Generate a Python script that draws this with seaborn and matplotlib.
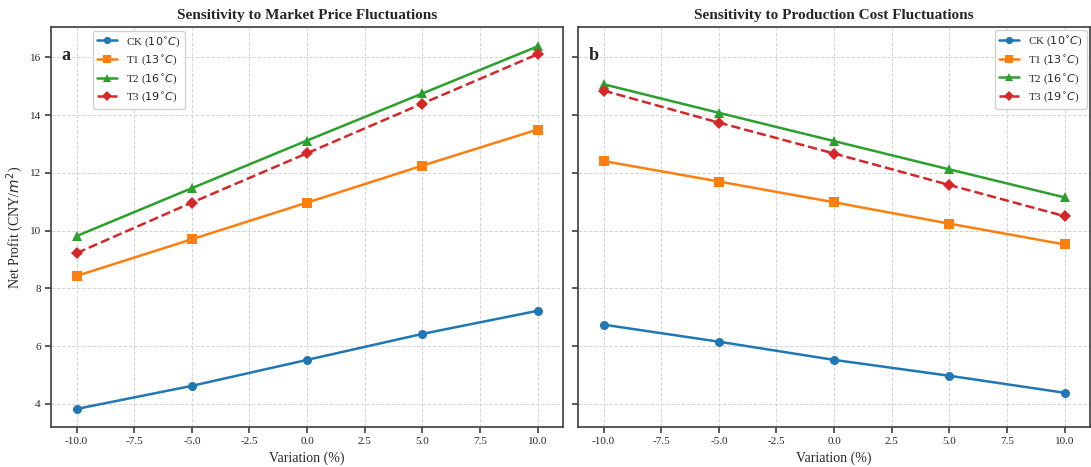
import pandas as pd
import matplotlib.pyplot as plt
import seaborn as sns

# variation levels (%)
variation = [-10, -5, 0, 5, 10]

# net profit when market price varies
price_ck = [3.82, 4.62, 5.52, 6.42, 7.22]
price_t1 = [8.43, 9.70, 10.97, 12.25, 13.50]
price_t2 = [9.81, 11.47, 13.12, 14.75, 16.38]
price_t3 = [9.22, 10.97, 12.68, 14.40, 16.11]

# net profit when production cost varies
cost_ck = [6.74, 6.15, 5.52, 4.97, 4.38]
cost_t1 = [12.41, 11.70, 10.98, 10.24, 9.52]
cost_t2 = [15.07, 14.08, 13.10, 12.12, 11.15]
cost_t3 = [14.85, 13.74, 12.67, 11.58, 10.50]

labels = ["CK ($10^{\\circ}C$)", "T1 ($13^{\\circ}C$)", "T2 ($16^{\\circ}C$)", "T3 ($19^{\\circ}C$)"]
colors = ["#1f77b4", "#ff7f0e", "#2ca02c", "#d62728"]
markers = ["o", "s", "^", "D"]
styles = ["-", "-", "-", "--"]

sns.set_theme(style="ticks")
plt.rcParams['font.family'] = ['Liberation Serif', 'DejaVu Serif']

fig, axes = plt.subplots(1, 2, figsize=(10.91, 4.67), dpi=100, sharey=True)
plt.subplots_adjust(left=0.047, right=0.999, top=0.942, bottom=0.086, wspace=0.03)

panels = [
    (axes[0], [price_ck, price_t1, price_t2, price_t3], "Sensitivity to Market Price Fluctuations", "a"),
    (axes[1], [cost_ck, cost_t1, cost_t2, cost_t3], "Sensitivity to Production Cost Fluctuations", "b"),
]

for ax, series, title, tag in panels:
    for vals, lab, c, m, ls in zip(series, labels, colors, markers, styles):
        df = pd.DataFrame({"Variation": variation, "Profit": vals})
        sns.lineplot(data=df, x="Variation", y="Profit", ax=ax, color=c, marker=m,
                     linestyle=ls, linewidth=1.8, markersize=6.5, markeredgewidth=0, label=lab)
    ax.set_title(title, fontsize=11, fontweight="bold", pad=6)
    ax.set_xlabel("Variation (%)", fontsize=10)
    ax.grid(True, linestyle="--", color="#d5d5d5", linewidth=0.7)
    ax.set_xlim(-11.1, 11.1)
    ax.set_xticks([-10, -7.5, -5, -2.5, 0, 2.5, 5, 7.5, 10])
    ax.set_xticklabels(["-10.0", "-7.5", "-5.0", "-2.5", "0.0", "2.5", "5.0", "7.5", "10.0"])
    ax.tick_params(labelsize=8, color="#444444", length=4)
    for sp in ax.spines.values():
        sp.set_color("#444444")
    ax.text(0.02, 0.93, tag, transform=ax.transAxes, fontsize=13, fontweight="bold", va="center")

axes[0].set_ylim(3.2, 17.05)
axes[0].set_yticks([4, 6, 8, 10, 12, 14, 16])
axes[0].set_ylabel("Net Profit (CNY/$m^2$)", fontsize=10, labelpad=3)
axes[0].legend(loc="upper left", bbox_to_anchor=(0.07, 1.005), fontsize=8, framealpha=0.9,
               handlelength=1.8, labelspacing=0.45, markerscale=0.8)
axes[1].legend(loc="upper right", fontsize=8, framealpha=0.9, borderaxespad=0.3,
               handlelength=1.8, labelspacing=0.45, markerscale=0.8)

plt.savefig("out.png", dpi=100)
